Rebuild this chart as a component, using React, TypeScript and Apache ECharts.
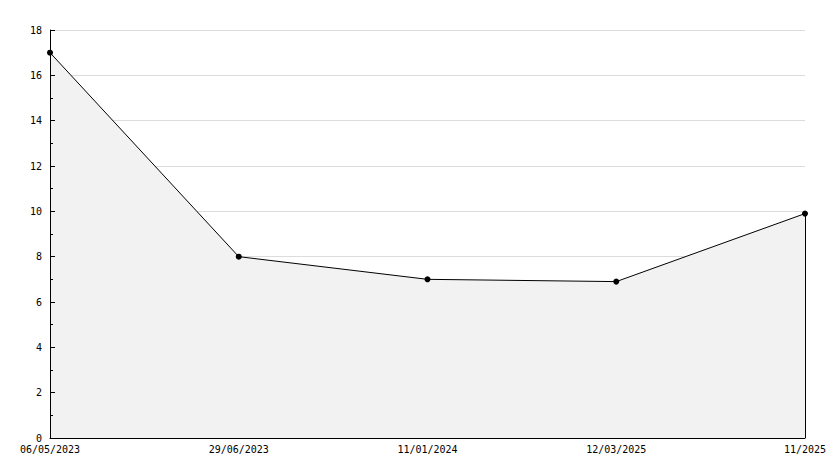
import React, { useEffect, useRef } from "react";
import * as echarts from "echarts";

const categories = ["06/05/2023", "29/06/2023", "11/01/2024", "12/03/2025", "11/2025"];
const values = [17, 8, 7, 6.9, 9.9];
const yMin = 0;
const yMax = 18;
const yInterval = 2;

export default function App() {
  const ref = useRef<HTMLDivElement>(null);
  useEffect(() => {
    if (!ref.current) return;
    const chart = echarts.init(ref.current, null, { renderer: "svg" });
    const font = "DejaVu Sans Mono";
    const last = values.length - 1;
    chart.setOption({
      animation: false,
      backgroundColor: "#ffffff",
      grid: { left: 50, right: 29, top: 30, bottom: 30, containLabel: false },
      xAxis: {
        type: "category",
        data: categories,
        boundaryGap: false,
        z: 5,
        axisLine: { show: true, lineStyle: { color: "#000", width: 1 } },
        axisTick: { show: false },
        axisLabel: {
          color: "#000",
          fontFamily: font,
          fontSize: 10,
          margin: 6,
          interval: 0,
          showMinLabel: true,
          showMaxLabel: true,
        },
        splitLine: { show: false },
      },
      yAxis: [
        {
          type: "value",
          min: yMin,
          max: yMax,
          interval: yInterval,
          z: 0,
          axisLine: { show: false },
          axisTick: { show: false },
          axisLabel: { color: "#000", fontFamily: font, fontSize: 10, margin: 8 },
          splitLine: { show: true, lineStyle: { color: "#dcdcdc", width: 1 } },
        },
        {
          type: "value",
          position: "left",
          min: yMin,
          max: yMax,
          interval: yInterval,
          z: 5,
          axisLine: { show: true, onZero: false, lineStyle: { color: "#000", width: 1 } },
          axisTick: { show: true, inside: true, length: 5, lineStyle: { color: "#000", width: 1 } },
          minorTick: { show: true, splitNumber: 2, length: 3, lineStyle: { color: "#000", width: 1 } },
          axisLabel: { show: false },
          splitLine: { show: false },
        },
      ],
      series: [
        {
          type: "line",
          data: values,
          yAxisIndex: 0,
          z: 2,
          symbol: "circle",
          symbolSize: 6,
          itemStyle: { color: "#000" },
          lineStyle: { color: "#000", width: 1 },
          areaStyle: { color: "#f2f2f2", opacity: 1 },
          markLine: {
            silent: true,
            symbol: "none",
            label: { show: false },
            lineStyle: { color: "#000", width: 1, type: "solid" },
            data: [[{ coord: [last, values[last]] }, { coord: [last, yMin] }]],
          },
        },
      ],
    });
    return () => chart.dispose();
  }, []);
  return <div ref={ref} style={{ width: 834, height: 468, position: "absolute", left: 0, top: 0 }} />;
}
